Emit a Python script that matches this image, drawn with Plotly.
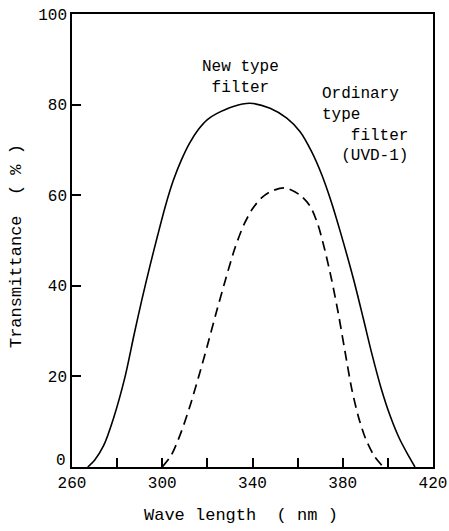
import plotly.graph_objects as go

# New type filter (solid)
new_wl = [267, 270, 274, 278.3, 283.5, 287.5, 291, 294.5, 298, 301.5, 305, 308.5, 312, 316,
          320, 324.1, 331.5, 338.9, 347.8, 355.2, 361.1, 366.2, 370.7, 375, 379, 384.7, 389,
          393, 397, 401, 405, 409, 412]
new_tr = [0, 1.5, 4.7, 10.6, 19.9, 29.2, 37, 44.3, 51.2, 57.8, 63.4, 67.8, 71.4, 74.5,
          76.7, 78.0, 79.6, 80.3, 79.2, 77.0, 74.0, 69.6, 64.5, 58.4, 51.8, 41.6, 33.0,
          24.8, 17.4, 11.3, 6.4, 2.6, 0]

# Ordinary type filter UVD-1 (dashed)
ord_wl = [300, 304, 308, 312, 316, 320, 324, 328, 332, 336, 340, 344, 348, 354.4, 361.1,
          365.5, 369, 372, 375, 378, 381, 384, 387, 390, 394, 398]
ord_tr = [0, 2.6, 7.2, 13.0, 19.7, 26.8, 34.2, 41.3, 48.0, 53.3, 57.0, 59.4, 60.8, 61.6, 60.0,
          57.6, 53.5, 48.0, 41.5, 34.0, 25.5, 17.2, 11.0, 6.4, 2.4, 0]

x_tickvals = [260, 280, 300, 320, 340, 360, 380, 400, 420]
x_ticktext = ["260", "", "300", "", "340", "", "380", "", "420"]
y_tickvals = [0, 20, 40, 60, 80, 100]
y_ticktext = ["", "20", "40", "60", "80", "100"]
y_zero_label = "0"

FONT = "Liberation Mono, Courier New, monospace"

fig = go.Figure()
fig.add_trace(go.Scatter(x=new_wl, y=new_tr, mode="lines",
                         line=dict(color="black", width=1.6, shape="spline", smoothing=0.8),
                         showlegend=False, hoverinfo="skip"))
fig.add_trace(go.Scatter(x=ord_wl, y=ord_tr, mode="lines",
                         line=dict(color="black", width=1.7, dash="10px,6px", shape="spline", smoothing=0.8),
                         showlegend=False, hoverinfo="skip"))

fig.update_layout(
    width=449, height=531,
    margin=dict(l=72, r=16, t=14, b=64, autoexpand=False),
    paper_bgcolor="white", plot_bgcolor="white",
    font=dict(family=FONT, size=16, color="black"),
    xaxis=dict(range=[260, 420], tickvals=x_tickvals, ticktext=x_ticktext,
               ticks="inside", ticklen=9, tickwidth=1.5, tickcolor="black",
               showline=True, linecolor="black", linewidth=1.6, mirror=True,
               showgrid=False, zeroline=False, automargin=False, tickfont=dict(size=16)),
    yaxis=dict(range=[0, 100], tickvals=y_tickvals, ticktext=y_ticktext,
               ticks="inside", ticklen=9, tickwidth=1.5, tickcolor="black",
               showline=True, linecolor="black", linewidth=1.6, mirror=True,
               showgrid=False, zeroline=False, automargin=False, tickfont=dict(size=16)),
)

# "0" of the y axis sits just above the "260" of the x axis, as in the original
fig.add_annotation(text=y_zero_label, xref="paper", yref="y", x=0, y=0,
                   xanchor="right", yanchor="bottom", xshift=-5, yshift=-4,
                   showarrow=False, borderpad=0, font=dict(family=FONT, size=16, color="black"))

fig.add_annotation(text="New type<br>filter", x=334.5, y=86.0, xref="x", yref="y",
                   showarrow=False, xanchor="center", yanchor="middle", align="center",
                   font=dict(family=FONT, size=16, color="black"))
fig.add_annotation(text="Ordinary<br>type<br>&nbsp;&nbsp;&nbsp;filter<br>&nbsp;&nbsp;(UVD-1)",
                   x=369.9, y=75.6, xref="x", yref="y",
                   showarrow=False, xanchor="left", yanchor="middle", align="left",
                   font=dict(family=FONT, size=16, color="black"))

fig.add_annotation(text="Wave length&nbsp;&nbsp;( nm )", xref="paper", yref="paper",
                   x=0.467, y=-0.106, showarrow=False, xanchor="center", yanchor="middle",
                   font=dict(family=FONT, size=17, color="black"))
fig.add_annotation(text="Transmittance&nbsp;&nbsp;( % )", xref="paper", yref="paper",
                   x=-0.152, y=0.488, showarrow=False, xanchor="center", yanchor="middle",
                   textangle=-90, font=dict(family=FONT, size=17, color="black"))

fig.write_html("out.html")
